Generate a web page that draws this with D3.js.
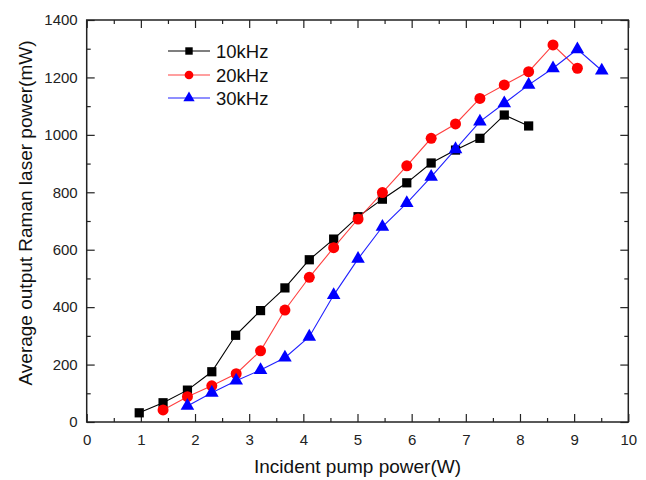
<!DOCTYPE html>
<html><head><meta charset="utf-8">
<script src="https://cdn.jsdelivr.net/npm/d3@7"></script>
<style>body{margin:0;background:#fff}svg{display:block;font-family:Arial,"Liberation Sans",sans-serif}</style>
</head><body><svg id="c" width="646" height="480"></svg>
<script>
const x10 = [0.97,1.41,1.86,2.31,2.75,3.21,3.66,4.11,4.56,5.01,5.46,5.91,6.36,6.81,7.26,7.71,8.16];
const y10 = [32,67,111,175,302,388,467,565,637,715,776,833,902,947,988,1069,1031];
const x20 = [1.41,1.86,2.31,2.76,3.21,3.66,4.11,4.56,5.01,5.46,5.91,6.36,6.81,7.26,7.71,8.16,8.61,9.06];
const y20 = [42,88,126,168,248,390,504,607,707,799,892,988,1038,1127,1174,1220,1313,1232];
const x30 = [1.86,2.31,2.76,3.21,3.66,4.11,4.56,5.01,5.46,5.91,6.36,6.81,7.26,7.71,8.16,8.61,9.06,9.51];
const y30 = [56,102,144,181,224,297,442,568,680,762,854,950,1046,1110,1174,1232,1298,1224];
const seriesNames = ["10kHz","20kHz","30kHz"];
const xTicks = [0,1,2,3,4,5,6,7,8,9,10];
const yTicks = [0,200,400,600,800,1000,1200,1400];
const xLabel = "Incident pump power(W)";
const yLabel = "Average output Raman laser power(mW)";

const svg = d3.select("#c");
const L=86.7, R=628.3, T=20, B=422;
const x = d3.scaleLinear().domain([0,10]).range([L,R]);
const y = d3.scaleLinear().domain([0,1400]).range([B,T]);
const fc = "#222";

const styles = [
  {line:"#000", fill:"#000", sym:d3.symbolSquare, size:85, lsize:55},
  {line:"#ff4040", fill:"#ff0000", sym:d3.symbolCircle, size:95, lsize:60},
  {line:"#2020ff", fill:"#0000ff", sym:d3.symbolTriangle, size:80, lsize:55}
];
const data = [[x10,y10],[x20,y20],[x30,y30]].map(([xs,ys])=>xs.map((v,i)=>[v,ys[i]]));

const minorX = d3.range(0.5,10,1), minorY = d3.range(100,1400,200);
function axisG(axis, tr){ const g=svg.append("g").attr("transform",tr).call(axis); g.select(".domain").remove(); g.selectAll("line").attr("stroke",fc).attr("stroke-width",1.2); return g;}
let g = axisG(d3.axisBottom(x).tickValues(xTicks).tickSizeInner(-8).tickSizeOuter(0).tickPadding(12).tickFormat(d3.format("d")),`translate(0,${B})`);
g.selectAll("text").attr("font-size",15).attr("fill",fc);
axisG(d3.axisBottom(x).tickValues(minorX).tickSize(-4).tickFormat(""),`translate(0,${B})`);
axisG(d3.axisTop(x).tickValues(xTicks).tickSize(-8).tickFormat(""),`translate(0,${T})`);
axisG(d3.axisTop(x).tickValues(minorX).tickSize(-4).tickFormat(""),`translate(0,${T})`);
g = axisG(d3.axisLeft(y).tickValues(yTicks).tickSizeInner(-8).tickSizeOuter(0).tickPadding(9).tickFormat(d3.format("d")),`translate(${L},0)`);
g.selectAll("text").attr("font-size",15).attr("fill",fc);
axisG(d3.axisLeft(y).tickValues(minorY).tickSize(-4).tickFormat(""),`translate(${L},0)`);
axisG(d3.axisRight(y).tickValues(yTicks).tickSize(-8).tickFormat(""),`translate(${R},0)`);
axisG(d3.axisRight(y).tickValues(minorY).tickSize(-4).tickFormat(""),`translate(${R},0)`);
svg.append("rect").attr("x",L).attr("y",T).attr("width",R-L).attr("height",B-T).attr("fill","none").attr("stroke",fc).attr("stroke-width",1.5);

const line = d3.line().x(d=>x(d[0])).y(d=>y(d[1]));
data.forEach((d,i)=>{
  const s=styles[i];
  svg.append("path").datum(d).attr("d",line).attr("fill","none").attr("stroke",s.line).attr("stroke-width",1.1);
  svg.selectAll(null).data(d).join("path")
    .attr("transform",p=>`translate(${x(p[0])},${y(p[1])})`)
    .attr("d",d3.symbol().type(s.sym).size(s.size)).attr("fill",s.fill);
});

const lx0=168, lx1=210, ly=[51,75,98];
seriesNames.forEach((n,i)=>{
  const s=styles[i];
  svg.append("line").attr("x1",lx0).attr("x2",lx1).attr("y1",ly[i]).attr("y2",ly[i]).attr("stroke",s.line).attr("stroke-width",1.1);
  svg.append("path").attr("transform",`translate(${(lx0+lx1)/2},${ly[i]})`).attr("d",d3.symbol().type(s.sym).size(s.lsize)).attr("fill",s.fill);
  svg.append("text").attr("x",216).attr("y",ly[i]).attr("dy","0.36em").attr("font-size",18.5).attr("fill","#111").text(n);
});

svg.append("text").attr("x",(L+R)/2).attr("y",473).attr("text-anchor","middle").attr("font-size",19).attr("fill","#111").text(xLabel);
svg.append("text").attr("transform",`translate(32,213) rotate(-90)`).attr("text-anchor","middle").attr("font-size",19).attr("fill","#111").text(yLabel);
</script></body></html>
